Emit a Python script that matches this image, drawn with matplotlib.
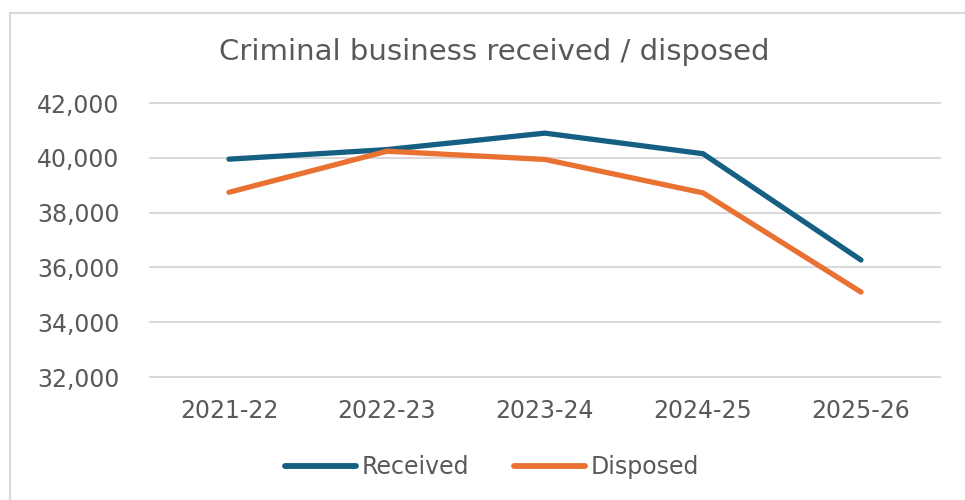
import matplotlib.pyplot as plt
from matplotlib.patches import Rectangle
from matplotlib.ticker import FuncFormatter

years = ["2021-22", "2022-23", "2023-24", "2024-25", "2025-26"]
received = [39950, 40300, 40900, 40150, 36270]
disposed = [38740, 40240, 39940, 38720, 35100]

blue = "#156082"
orange = "#E97132"
grey_text = "#595959"
grid_col = "#D9D9D9"

fig = plt.figure(figsize=(9.65, 5.0), dpi=100)
ax = fig.add_axes([0.1554, 0.246, 0.8187, 0.548])

# outer chart frame
fig.patches.append(Rectangle((10 / 965, -0.1), 1.2, 1 - 13 / 500 + 0.1,
                             transform=fig.transFigure, fill=False,
                             edgecolor=grid_col, linewidth=1.5))

x = range(len(years))
ax.plot(x, received, color=blue, linewidth=3.8, solid_capstyle="round",
        label="Received")
ax.plot(x, disposed, color=orange, linewidth=3.8, solid_capstyle="round",
        label="Disposed")

ax.set_xlim(-0.5, len(years) - 0.5)
ax.set_ylim(32000, 42000)
ax.set_yticks(range(32000, 42001, 2000))
ax.yaxis.set_major_formatter(FuncFormatter(lambda v, p: f"{int(v):,}"))
ax.set_xticks(list(x))
ax.set_xticklabels(years)

ax.grid(axis="y", color=grid_col, linewidth=1.5)
ax.set_axisbelow(True)
for s in ax.spines.values():
    s.set_visible(False)
ax.tick_params(length=0, colors=grey_text, labelsize=17)
ax.tick_params(axis="y", pad=22)
ax.tick_params(axis="x", pad=16)
for lab in ax.get_xticklabels() + ax.get_yticklabels():
    lab.set_family("DejaVu Sans")
for gl in ax.get_ygridlines():
    gl.set_clip_on(False)

fig.text(0.512, 0.896, "Criminal business received / disposed",
         ha="center", va="center", fontsize=21, color=grey_text,
         family="DejaVu Sans")

leg = fig.legend(loc="center", bbox_to_anchor=(0.51, 0.066), ncol=2,
                 frameon=False, handlelength=3.0, handletextpad=0.25,
                 columnspacing=1.9,
                 prop={"family": "DejaVu Sans", "size": 17})
for line in leg.get_lines():
    line.set_linewidth(4.2)
    line.set_solid_capstyle("round")
for t in leg.get_texts():
    t.set_color(grey_text)

fig.savefig("out.png", dpi=100)
